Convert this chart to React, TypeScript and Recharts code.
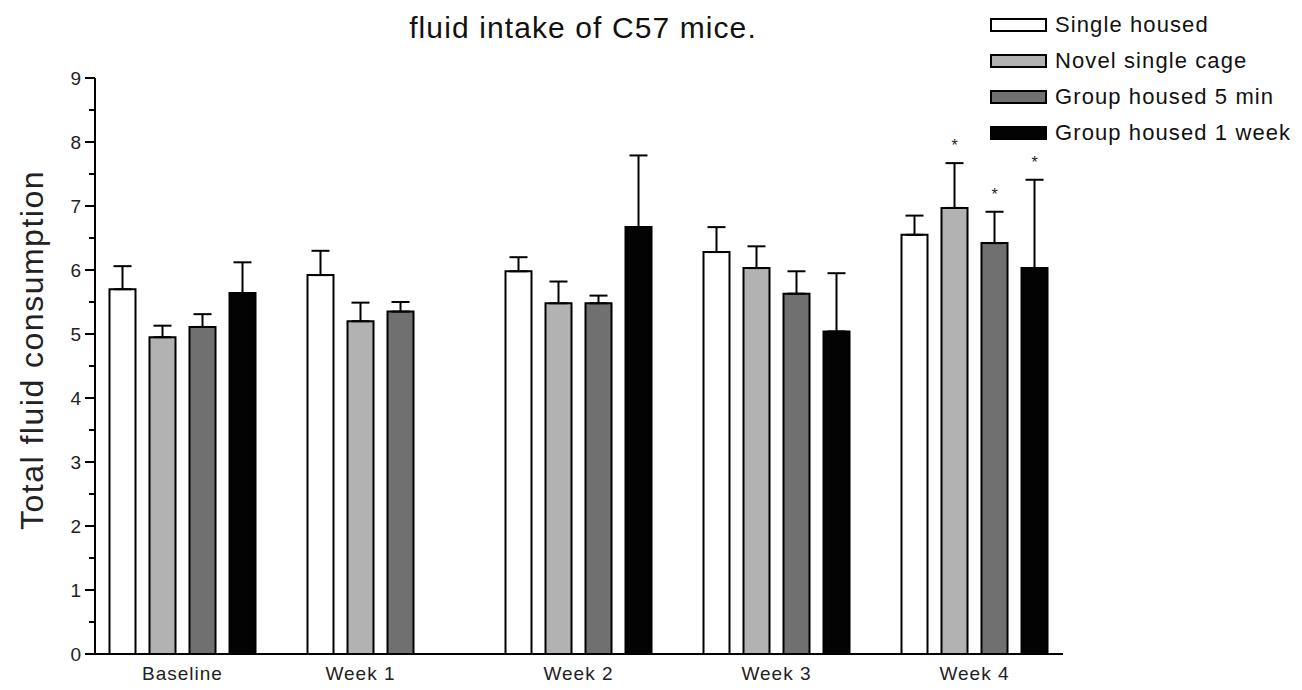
import {
  BarChart,
  Bar,
  XAxis,
  YAxis,
  ErrorBar,
  Legend,
  LabelList,
  Label,
} from 'recharts';

const categories = ['Baseline', 'Week 1', 'Week 2', 'Week 3', 'Week 4'];

const singleHoused = [5.7, 5.92, 5.98, 6.28, 6.55];
const singleHousedErr = [0.36, 0.38, 0.22, 0.39, 0.3];

const novelCage = [4.95, 5.2, 5.48, 6.03, 6.97];
const novelCageErr = [0.18, 0.29, 0.34, 0.34, 0.7];

const group5min = [5.11, 5.35, 5.48, 5.63, 6.42];
const group5minErr = [0.2, 0.15, 0.12, 0.35, 0.49];

const group1week = [5.64, null, 6.67, 5.04, 6.03];
const group1weekErr = [0.48, null, 1.12, 0.91, 1.38];

const novelCageStars = ['', '', '', '', '*'];
const group5minStars = ['', '', '', '', '*'];
const group1weekStars = ['', '', '', '', '*'];

const yTicks = [0, 1, 2, 3, 4, 5, 6, 7, 8, 9];

const FONT = '"Liberation Sans", Arial, Helvetica, sans-serif';
const BAR_SIZE = 26;
const BAR_GAP = 14;

const series = [
  { key: 's1', name: 'Single housed', fill: '#ffffff', values: singleHoused, errs: singleHousedErr, stars: null },
  { key: 's2', name: 'Novel single cage', fill: '#b2b2b2', values: novelCage, errs: novelCageErr, stars: novelCageStars },
  { key: 's3', name: 'Group housed 5 min', fill: '#707070', values: group5min, errs: group5minErr, stars: group5minStars },
  { key: 's4', name: 'Group housed 1 week', fill: '#030303', values: group1week, errs: group1weekErr, stars: group1weekStars },
];

const data = categories.map((name, i) => {
  const row: any = { name };
  series.forEach(s => {
    row[s.key] = s.values[i];
    row[s.key + 'e'] = s.errs[i] == null ? null : [0, s.errs[i]];
  });
  return row;
});

// minor ticks every 0.5
const allTicks: number[] = [];
for (let v = 0; v <= 9; v += 0.5) allTicks.push(v);

const YTick = (props: any) => {
  const { x, y, payload } = props;
  const axisX = x + 14;
  const major = yTicks.includes(payload.value);
  return (
    <g>
      <line x1={major ? axisX - 10 : axisX - 6} x2={axisX} y1={y} y2={y} stroke="#000" strokeWidth={2} />
      {major && (
        <text x={axisX - 14} y={y} dy={7} textAnchor="end" fontFamily={FONT} fontSize={19} fill="#222">
          {payload.value}
        </text>
      )}
    </g>
  );
};

const XTick = (props: any) => {
  const { x, y, payload, index } = props;
  // centre the label on the bars that exist in the group
  const missing = series.filter(s => s.values[index] == null).length;
  const shift = -(missing * (BAR_SIZE + BAR_GAP)) / 2;
  return (
    <text x={x + shift} y={y} dy={18} textAnchor="middle" fontFamily={FONT} fontSize={19} letterSpacing={1} fill="#222">
      {payload.value}
    </text>
  );
};

const makeStar = (s: any) => (props: any) => {
  const { x, y, width, height, value } = props;
  const i = categories.indexOf(value);
  if (i < 0 || !s.stars[i] || s.values[i] == null) return null;
  const ppu = height / s.values[i];
  const capY = y - s.errs[i] * ppu;
  return (
    <text x={x + width / 2} y={capY - 12} textAnchor="middle" fontFamily={FONT} fontSize={16} fill="#222">
      {s.stars[i]}
    </text>
  );
};

const renderLegend = () => (
  <div style={{ fontFamily: FONT }}>
    {series.map(s => (
      <div key={s.key} style={{ display: 'flex', alignItems: 'center', height: 36 }}>
        <div style={{ width: 53, height: 10, background: s.fill, border: '2px solid #000' }} />
        <span style={{ marginLeft: 8, fontSize: 22, letterSpacing: 1.1, color: '#111' }}>{s.name}</span>
      </div>
    ))}
  </div>
);

const renderYLabel = () => (
  <text
    x={24}
    y={342}
    transform="rotate(-90 24 342)"
    textAnchor="middle"
    dominantBaseline="central"
    fontFamily={FONT}
    fontSize={32}
    letterSpacing={1.5}
    fill="#222"
  >
    Total fluid consumption
  </text>
);

export default function App() {
  return (
    <div style={{ position: 'relative', width: 1286, height: 682, marginBottom: -8, background: '#fff' }}>
      <div
        style={{
          position: 'absolute',
          left: 275,
          width: 600,
          top: 4,
          textAlign: 'center',
          fontFamily: FONT,
          fontSize: 30,
          lineHeight: '32px',
          letterSpacing: 1.1,
          color: '#111',
          zIndex: 1,
        }}
      >
        fluid intake of C57 mice.
      </div>
      <BarChart
        width={1286}
        height={682}
        data={data}
        margin={{ top: 70, right: 231, bottom: 0, left: 0 }}
        barSize={BAR_SIZE}
        barGap={BAR_GAP}
      >
        <XAxis
          dataKey="name"
          height={36}
          padding={{ left: -11.5, right: -10.5 }}
          axisLine={{ stroke: '#000', strokeWidth: 2 }}
          tickLine={false}
          tickSize={6}
          tickMargin={2}
          tick={<XTick />}
          interval={0}
        />
        <YAxis
          width={87}
          domain={[0, 9]}
          ticks={allTicks}
          interval={0}
          axisLine={{ stroke: '#000', strokeWidth: 2 }}
          tickLine={false}
          tickSize={10}
          tickMargin={4}
          tick={<YTick />}
        >
          <Label content={renderYLabel} />
        </YAxis>
        <Legend
          layout="vertical"
          align="center"
          verticalAlign="middle"
          content={renderLegend}
          wrapperStyle={{ position: 'absolute', top: -1, left: 982, width: 320 }}
        />
        {series.map(s => (
          <Bar
            key={s.key}
            dataKey={s.key}
            name={s.name}
            fill={s.fill}
            stroke="#000"
            strokeWidth={2}
            isAnimationActive={false}
          >
            <ErrorBar dataKey={s.key + 'e'} width={9} stroke="#000" strokeWidth={2} direction="y" />
            {s.stars && <LabelList dataKey="name" content={makeStar(s)} />}
          </Bar>
        ))}
      </BarChart>
    </div>
  );
}
